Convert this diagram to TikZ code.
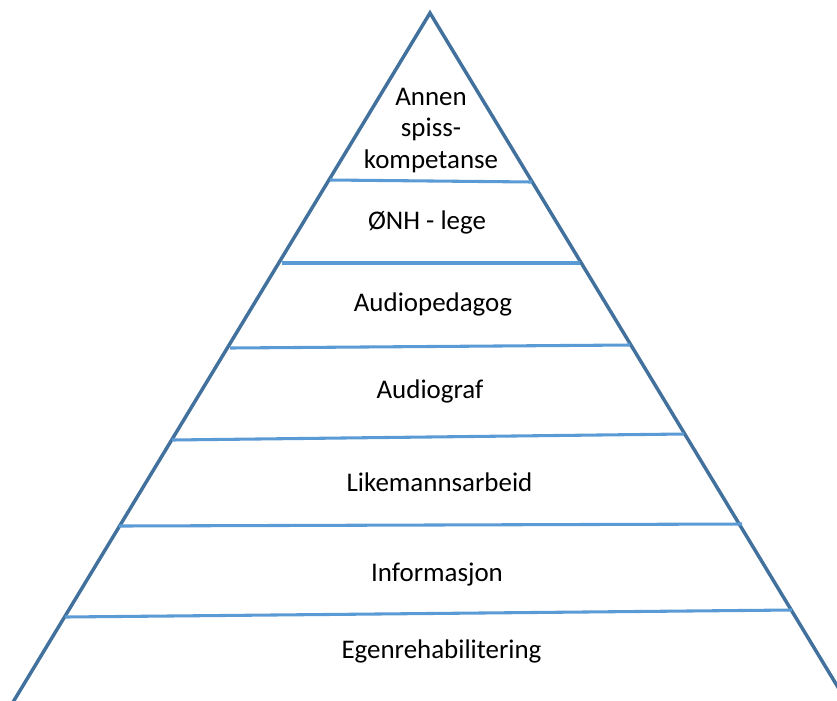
\documentclass[tikz,border=0pt]{standalone}
\usepackage{fontspec}
\setmainfont{Carlito}
\usepackage{tikz}

\definecolor{kant}{HTML}{41719C}
\definecolor{skille}{HTML}{5B9BD5}

\begin{document}
\begin{tikzpicture}[x=0.75pt,y=-0.75pt,
    kant/.style={draw=kant, line width=2.6pt, line join=miter},
    skille/.style={draw=skille, line width=2.3pt},
    niva/.style={font=\fontsize{20.2}{23.6}\selectfont, anchor=base, align=center, inner sep=0pt}]
		    \useasboundingbox (0,0) rectangle (837,700);
		    \begin{scope}
					\clip (0,0) rectangle (837,700);
					\coordinate (topp) at (430,13);
					\coordinate (vbunn) at (-22,760);
					\coordinate (hbunn) at (882,760);
					\draw[kant] (vbunn) -- (topp) -- (hbunn); % pyramiden

					% skillelinjer
					\coordinate (v1) at (330,180); \coordinate (h1) at (532,182);
					\coordinate (v2) at (282,263); \coordinate (h2) at (580,263);
					\coordinate (v3) at (230,348); \coordinate (h3) at (630,345);
					\coordinate (v4) at (172,440); \coordinate (h4) at (684,434);
					\coordinate (v5) at (119,526); \coordinate (h5) at (742,524);
					\coordinate (v6) at (65,617);  \coordinate (h6) at (792,610);
					\foreach \i in {1,...,6}
						\draw[skille] (v\i) -- (h\i);

					\node[niva] (spiss) at (431,168) {Annen\\spiss-\\kompetanse}; % siste linje paa grunnlinja
					\node[niva] (onh) at (427,229) {ØNH - lege};
					\node[niva] (audioped) at (433,311) {Audiopedagog};
					\node[niva] (audiograf) at (430,398) {Audiograf};
					\node[niva] (likemann) at (439.5,491) {Likemannsarbeid};
					\node[niva] (info) at (437,581) {Informasjon};
					\node[niva] (egen) at (441.5,658) {Egenrehabilitering};
		    \end{scope}
		  \end{tikzpicture}
\end{document}
